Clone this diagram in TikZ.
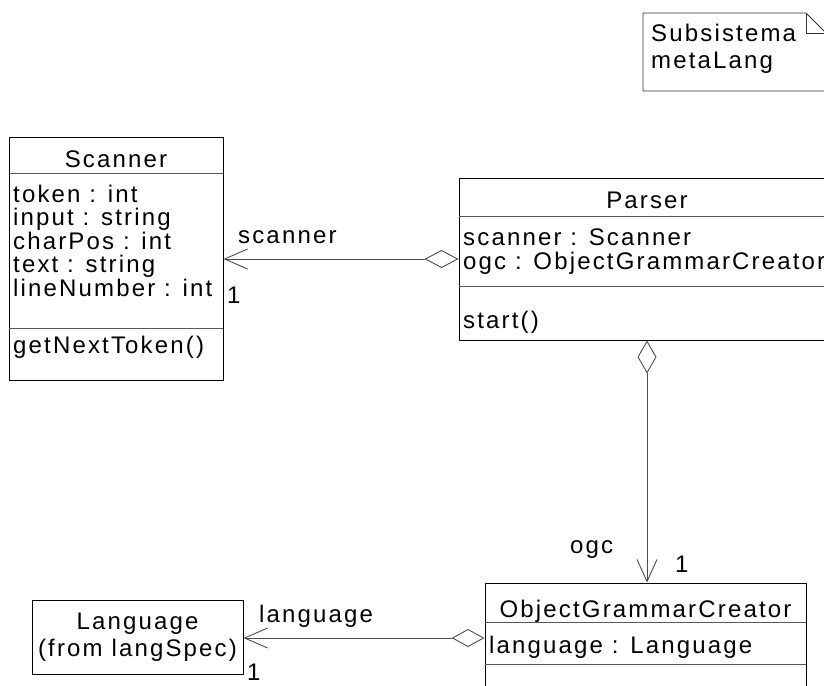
\documentclass[tikz,border=0pt]{standalone}
\usepackage{fontspec}
\setmainfont{Liberation Sans}[LetterSpace=9]
\usetikzlibrary{arrows.meta}
\begin{document}
\begin{tikzpicture}[x=1pt,y=-1pt,
  box/.style={draw=black, line width=0.95pt, rectangle, inner sep=0pt, fill=white},
  sep/.style={draw=black!65, line width=0.9pt},
  txt/.style={anchor=base west, inner sep=0pt, font=\fontsize{24}{24}\selectfont},
  ctxt/.style={anchor=base, inner sep=0pt, font=\fontsize{24}{24}\selectfont},
  assoc/.style={draw=black!70, line width=0.9pt}
]
\useasboundingbox (0,0) rectangle (824,685);
\clip (0,0) rectangle (824,685);

% note
\draw[line width=0.9pt, draw=black!80] (643,13) -- (806,13) -- (826,33) -- (826,91) -- (643,91) -- cycle;
\draw[line width=0.9pt, draw=black!80] (806,13) -- (806,33) -- (826,33);
\node[txt] (n1) at (651,42) {Subsistema};
\node[txt] (n2) at (651,68) {metaLang};

% boxes
\node[box, minimum width=214pt, minimum height=243pt] (scanner) at (116,258.5) {};
\node[box, minimum width=376pt, minimum height=162pt] (parser) at (647,259) {};
\node[box, minimum width=321pt, minimum height=137pt] (ogc) at (645.5,651.5) {};
\node[box, minimum width=211pt, minimum height=74pt] (language) at (137.5,637) {};

% compartments
\draw[sep] (scanner.west |- 0,173) -- (scanner.east |- 0,173);
\draw[sep] (scanner.west |- 0,328) -- (scanner.east |- 0,328);
\draw[sep] (parser.west |- 0,216) -- (parser.east |- 0,216);
\draw[sep] (parser.west |- 0,286) -- (parser.east |- 0,286);
\draw[sep] (ogc.west |- 0,622) -- (ogc.east |- 0,622);
\draw[sep] (ogc.west |- 0,664) -- (ogc.east |- 0,664);

% Scanner text
\node[ctxt] (sh) at (116,167) {Scanner};
\node[txt] (s1) at (13,202) {token : int};
\node[txt] (s2) at (13,225.5) {input : string};
\node[txt] (s3) at (13,249) {charPos : int};
\node[txt] (s4) at (13,272.5) {text : string};
\node[txt] (s5) at (13,296) {lineNumber : int};
\node[txt] (s6) at (13,353) {getNextToken()};

% Parser text
\node[ctxt] (ph) at (647,208) {Parser};
\node[txt] (p1) at (463,245) {scanner : Scanner};
\node[txt] (p2) at (463,269) {ogc : ObjectGrammarCreator};
\node[txt] (p3) at (463,328) {start()};

% OGC text
\node[ctxt] (oh) at (645.5,617) {ObjectGrammarCreator};
\node[txt] (o1) at (489,653) {language : Language};

% Language text
\node[ctxt] (l1) at (137.5,629) {Language};
\node[ctxt] (l2) at (137.5,656) {(from langSpec)};

% connectors
\draw[assoc, {Diamond[open, length=34pt, width=18pt, fill=white]}-{Straight Barb[length=23pt, width=20pt]}]
  (parser.west) -- (scanner.east |- parser.west);
\draw[assoc, {Diamond[open, length=33pt, width=19pt, fill=white]}-{Straight Barb[length=22pt, width=20pt]}]
  (parser.south) -- (parser.south |- ogc.north);
\draw[assoc, {Diamond[open, length=33pt, width=18pt, fill=white]}-{Straight Barb[length=23pt, width=20pt]}]
  (ogc.west |- 0,638) -- (language.east |- 0,638);

% labels
\node[txt] (lbs) at (238,243) {scanner};
\node[txt] (m1) at (227,303) {1};
\node[txt] (lbo) at (570,553) {ogc};
\node[txt] (m2) at (675,572) {1};
\node[txt] (lbl) at (259,622) {language};
\node[txt] (m3) at (247,680) {1};
\end{tikzpicture}
\end{document}
